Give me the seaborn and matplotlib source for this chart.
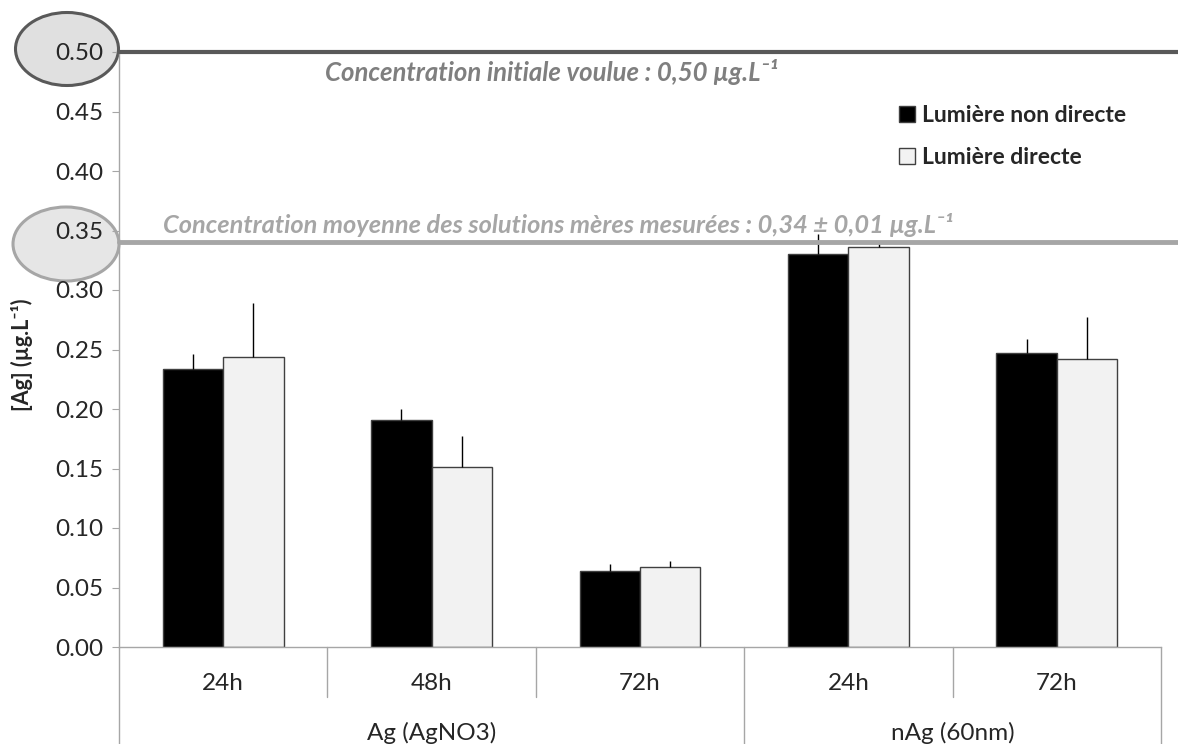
import matplotlib
matplotlib.use("Agg")
import matplotlib.pyplot as plt
import matplotlib.transforms as mtransforms
from matplotlib.patches import Ellipse, Patch
import pandas as pd
import seaborn as sns

# data
groups = ["Ag (AgNO3)", "Ag (AgNO3)", "Ag (AgNO3)", "nAg (60nm)", "nAg (60nm)"]
times = ["24h", "48h", "72h", "24h", "72h"]
conditions = ["Lumière non directe", "Lumière directe"]
non_directe = [0.234, 0.191, 0.064, 0.330, 0.247]
non_directe_err = [0.012, 0.009, 0.006, 0.017, 0.012]
directe = [0.244, 0.151, 0.067, 0.336, 0.242]
directe_err = [0.045, 0.026, 0.005, 0.005, 0.035]
target_conc = 0.50
stock_conc = 0.34
yticks = [0.0, 0.05, 0.10, 0.15, 0.20, 0.25, 0.30, 0.35, 0.40, 0.45, 0.50]

cats = [f"{g}|{t}" for g, t in zip(groups, times)]
rows = []
for c, v1, v2 in zip(cats, non_directe, directe):
    rows.append({"cat": c, "condition": conditions[0], "value": v1})
    rows.append({"cat": c, "condition": conditions[1], "value": v2})
df = pd.DataFrame(rows)

sns.set_style("white")
plt.rcParams["font.family"] = ["Lato", "DejaVu Sans"]

W, H = 1178, 744
fig = plt.figure(figsize=(W / 100, H / 100), dpi=100)
ax = fig.add_axes([119 / W, 1 - 647 / H, (1161 - 119) / W, (647 - 52) / H])
ax.patch.set_visible(False)

colors = ["black", "#f2f2f2"]
sns.barplot(data=df, x="cat", y="value", hue="condition", order=cats,
            hue_order=conditions, palette=colors, width=0.58,
            edgecolor="#404040", linewidth=1, errorbar=None, legend=False, ax=ax)

for cont, vals, errs in zip(ax.containers, [non_directe, directe],
                            [non_directe_err, directe_err]):
    xs = [p.get_x() + p.get_width() / 2 for p in cont.patches]
    ax.errorbar(xs, vals, yerr=[[0] * len(errs), errs], fmt="none",
                ecolor="black", elinewidth=1, capsize=0, zorder=3)

ax.set_xlim(-0.5, len(cats) - 0.5)
ax.set_ylim(0, 0.5)
ax.set_yticks(yticks)
ax.set_yticklabels([f"{v:.2f}" for v in yticks], fontsize=17.5)
ax.tick_params(axis="y", length=5, color="#a6a6a6", left=True, pad=6)
ax.set_xticks([])
ax.set_xlabel("")
ax.set_ylabel("")
for s in ["top", "right"]:
    ax.spines[s].set_visible(False)
for s in ["left", "bottom"]:
    ax.spines[s].set_color("#a6a6a6")
    ax.spines[s].set_linewidth(1)

trans = mtransforms.blended_transform_factory(ax.transData, ax.transAxes)
for i, t in enumerate(times):
    ax.text(i, -0.062, t, transform=trans, ha="center", va="center", fontsize=17.5)
for xv in [0.5, 1.5, 3.5]:
    ax.plot([xv, xv], [0, -0.084], transform=trans, color="#a6a6a6", lw=1, clip_on=False)
for xv in [-0.5, 2.5, 4.5]:
    ax.plot([xv, xv], [0, -0.2], transform=trans, color="#a6a6a6", lw=1, clip_on=False)

# group labels
seen = []
for g in groups:
    if g not in seen:
        seen.append(g)
for g in seen:
    idx = [i for i, gg in enumerate(groups) if gg == g]
    ax.text(sum(idx) / len(idx), -0.145, g, transform=trans, ha="center",
            va="center", fontsize=17.5)

# reference lines
htrans = mtransforms.blended_transform_factory(ax.transAxes, ax.transData)
ax.plot([0, 1.02], [target_conc, target_conc], transform=htrans, color="#595959",
        lw=3, clip_on=False, zorder=4)
ax.plot([0, 1.02], [stock_conc, stock_conc], transform=htrans, color="#a6a6a6",
        lw=3.5, clip_on=False, zorder=4)

fig.text(325 / W, 1 - 72 / H, "Concentration initiale voulue : 0,50 µg.L⁻¹",
         color="#7f7f7f", fontsize=18.5, style="italic", weight="bold", va="center")
fig.text(163 / W, 1 - 225 / H,
         "Concentration moyenne des solutions mères mesurées : 0,34 ± 0,01 µg.L⁻¹",
         color="#a6a6a6", fontsize=18.3, style="italic", weight="bold", va="center")

# ellipses around tick labels
fig.patches.append(Ellipse((67 / W, 1 - 49 / H), 103 / W, 73 / H, transform=fig.transFigure,
                           facecolor="#e0e0e0", edgecolor="#595959", lw=2.2, zorder=-1))
fig.patches.append(Ellipse((66 / W, 1 - 244 / H), 106 / W, 74 / H, transform=fig.transFigure,
                           facecolor="#e6e6e6", edgecolor="#a6a6a6", lw=2.2, zorder=-1))

fig.text(22 / W, 1 - 355 / H, "[Ag] (µg.L⁻¹)", rotation=90, ha="center", va="center",
         fontsize=15.5, weight="bold")

handles = [Patch(facecolor=c, edgecolor="#404040", lw=1) for c in colors]
ax.legend(handles, conditions, loc="upper left", bbox_to_anchor=(899 / W, 1 - 105 / H),
          bbox_transform=fig.transFigure, frameon=False, handlelength=0.7,
          handleheight=0.7, handletextpad=0.3, labelspacing=0.9,
          borderpad=0, borderaxespad=0, prop={"weight": "bold", "size": 16.5})

fig.savefig("out.png", dpi=100)
